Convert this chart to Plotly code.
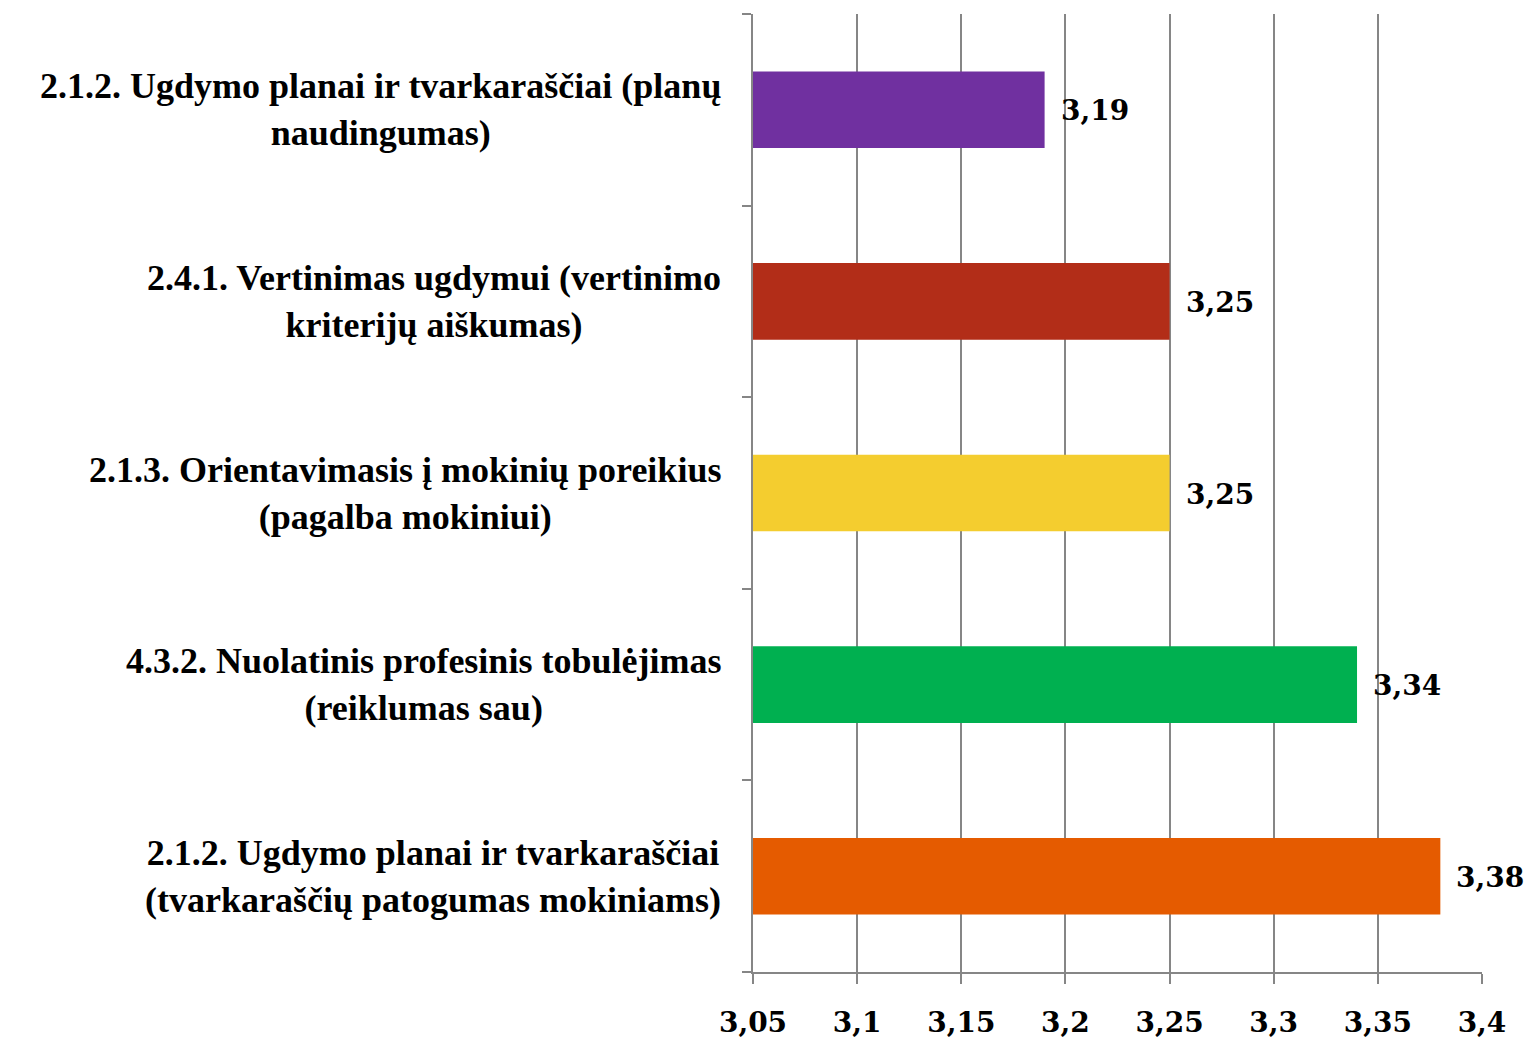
import plotly.graph_objects as go

categories = [
    "2.1.2. Ugdymo planai ir tvarkaraščiai<br>(tvarkaraščių patogumas mokiniams)",
    "4.3.2. Nuolatinis profesinis tobulėjimas<br>(reiklumas sau)",
    "2.1.3. Orientavimasis į mokinių poreikius<br>(pagalba mokiniui)",
    "2.4.1. Vertinimas ugdymui (vertinimo<br>kriterijų aiškumas)",
    "2.1.2. Ugdymo planai ir tvarkaraščiai (planų<br>naudingumas)",
]
values = [3.38, 3.34, 3.25, 3.25, 3.19]
colors = ["#E55B00", "#00B050", "#F4CD2F", "#B22D18", "#7030A0"]
x_ticks = [3.05, 3.1, 3.15, 3.2, 3.25, 3.3, 3.35, 3.4]
x_tick_labels = ["3,05", "3,1", "3,15", "3,2", "3,25", "3,3", "3,35", "3,4"]

fig = go.Figure()
fig.add_trace(go.Bar(
    y=categories, x=values, orientation="h",
    marker=dict(color=colors, line=dict(width=0)),
    width=0.4, hoverinfo="skip", cliponaxis=False,
))

num_font = dict(family="DejaVu Serif, serif", size=28, color="black", weight="bold")
lab_font = dict(family="Liberation Serif, Times New Roman, serif", size=36, color="black", weight="bold")

annotations = []
for c, v in zip(categories, values):
    annotations.append(dict(
        x=0, xref="paper", y=c, yref="y", text=c,
        xanchor="right", yanchor="middle", align="center",
        xshift=-30, showarrow=False, font=lab_font,
    ))
    annotations.append(dict(
        x=v, xref="x", y=c, yref="y", text=("%.2f" % v).replace(".", ","),
        xanchor="left", yanchor="middle", xshift=14, yshift=-1, showarrow=False,
        font=num_font,
    ))

fig.update_layout(
    width=1533, height=1040,
    margin=dict(l=753, r=51, t=14, b=68, autoexpand=False),
    plot_bgcolor="white", paper_bgcolor="white",
    separators=",.",
    showlegend=False,
    annotations=annotations,
    xaxis=dict(
        range=[3.05, 3.4], tickvals=x_ticks, ticktext=x_tick_labels,
        showgrid=True, gridcolor="#868686", gridwidth=2,
        showline=True, linecolor="#868686", linewidth=2,
        ticks="outside", ticklen=10, tickwidth=2, tickcolor="#868686",
        tickfont=num_font, ticklabelstandoff=14, zeroline=False,
    ),
    yaxis=dict(
        type="category", categoryorder="array", categoryarray=categories,
        range=[-0.5, 4.5], showticklabels=False,
        showgrid=False, zeroline=False,
        showline=True, linecolor="#868686", linewidth=2,
        ticks="outside", tickson="boundaries", ticklen=9, tickwidth=2, tickcolor="#868686",
    ),
)
fig.write_html("out.html", config={"displayModeBar": False},
               post_script="document.body.style.margin='0';document.body.style.overflow='hidden';")
